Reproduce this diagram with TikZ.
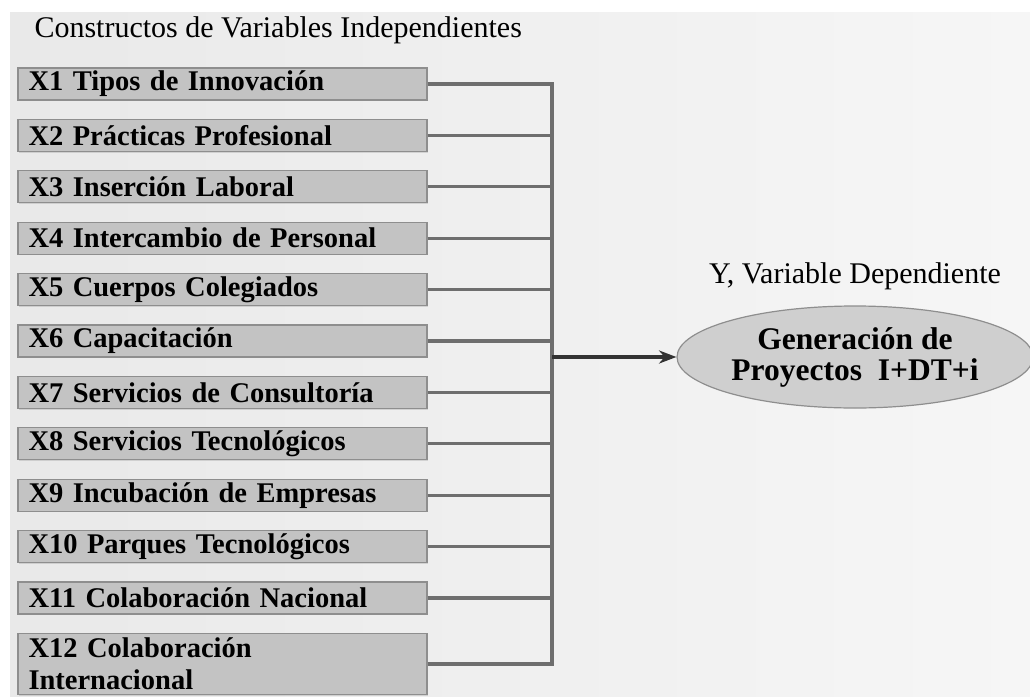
\documentclass[tikz,border=0pt]{standalone}
\usepackage{fontspec}
\setmainfont{Liberation Serif}
\usetikzlibrary{arrows.meta,positioning,shapes.geometric,shadows}
\definecolor{fondoa}{HTML}{E9E9E9}
\definecolor{fondob}{HTML}{F6F6F6}
\definecolor{caja}{HTML}{C3C3C3}
\definecolor{borde}{HTML}{8E8E8E}
\definecolor{linea}{HTML}{6E6E6E}

\begin{document}
\begin{tikzpicture}[
      x=1pt, y=-1pt, >=Stealth, node distance=18.2pt,
      var/.style={draw=borde, line width=1.2pt, fill=caja, minimum width=409pt, minimum height=32pt,
                  text width=388pt, inner xsep=10pt, inner ysep=1pt, align=left,
                  drop shadow={opacity=0.25, shadow xshift=1.2pt, shadow yshift=-1.2pt},
                  font=\fontsize{28.5}{32}\selectfont\bfseries},
      dep/.style={ellipse, draw=borde, line width=1.2pt, fill=caja!80!white, minimum width=356pt,
                  minimum height=102pt, inner sep=1pt, align=center,
                  font=\fontsize{31.5}{31}\selectfont\bfseries},
      lab/.style={font=\fontsize{30}{34}\selectfont},
      conn/.style={draw=linea, line width=3.2pt}]
    \useasboundingbox (0,0) rectangle (1030,696);
    \shade[left color=fondoa, right color=fondob] (10,12) rectangle (1030,696);
    \node[lab, anchor=west] (tit) at (31,30) {Constructos de Variables Independientes};
    \node[var] (x1) at (222.5,84) {X1 Tipos de Innovación};
    \node[var, below=of x1] (x2) {X2 Prácticas Profesional};
    \node[var, below=of x2] (x3) {X3 Inserción Laboral};
    \node[var, below=of x3] (x4) {X4 Intercambio de Personal};
    \node[var, below=of x4] (x5) {X5 Cuerpos Colegiados};
    \node[var, below=of x5] (x6) {X6 Capacitación};
    \node[var, below=of x6] (x7) {X7 Servicios de Consultoría};
    \node[var, below=of x7] (x8) {X8 Servicios Tecnológicos};
    \node[var, below=of x8] (x9) {X9 Incubación de Empresas};
    \node[var, below=of x9] (x10) {X10 Parques Tecnológicos};
    \node[var, below=of x10] (x11) {X11 Colaboración Nacional};
    \node[var, below=of x11, minimum height=61pt] (x12) {X12 Colaboración\\Internacional};
    \node[dep] (y) at (855,357) {Generación de\\Proyectos\ \ I+DT+i};
    \node[lab, above=12pt of y] (ylab) {Y, Variable Dependiente};
    \coordinate (bus) at (552,357);
    % lineas de cada constructo al bus
    \draw[conn] (x1.east) -- (x1.east -| bus);
    \draw[conn] (x2.east) -- (x2.east -| bus);
    \draw[conn] (x3.east) -- (x3.east -| bus);
    \draw[conn] (x4.east) -- (x4.east -| bus);
    \draw[conn] (x5.east) -- (x5.east -| bus);
    \draw[conn] (x6.east) -- (x6.east -| bus);
    \draw[conn] (x7.east) -- (x7.east -| bus);
    \draw[conn] (x8.east) -- (x8.east -| bus);
    \draw[conn] (x9.east) -- (x9.east -| bus);
    \draw[conn] (x10.east) -- (x10.east -| bus);
    \draw[conn] (x11.east) -- (x11.east -| bus);
    \draw[conn] (x12.east) -- (x12.east -| bus);
    \draw[conn, line cap=rect] (x1.east -| bus) -- (x12.east -| bus);
    \draw[->, line width=3.2pt, draw=black!80] (bus) -- (y.west);
  \end{tikzpicture}
\end{document}
